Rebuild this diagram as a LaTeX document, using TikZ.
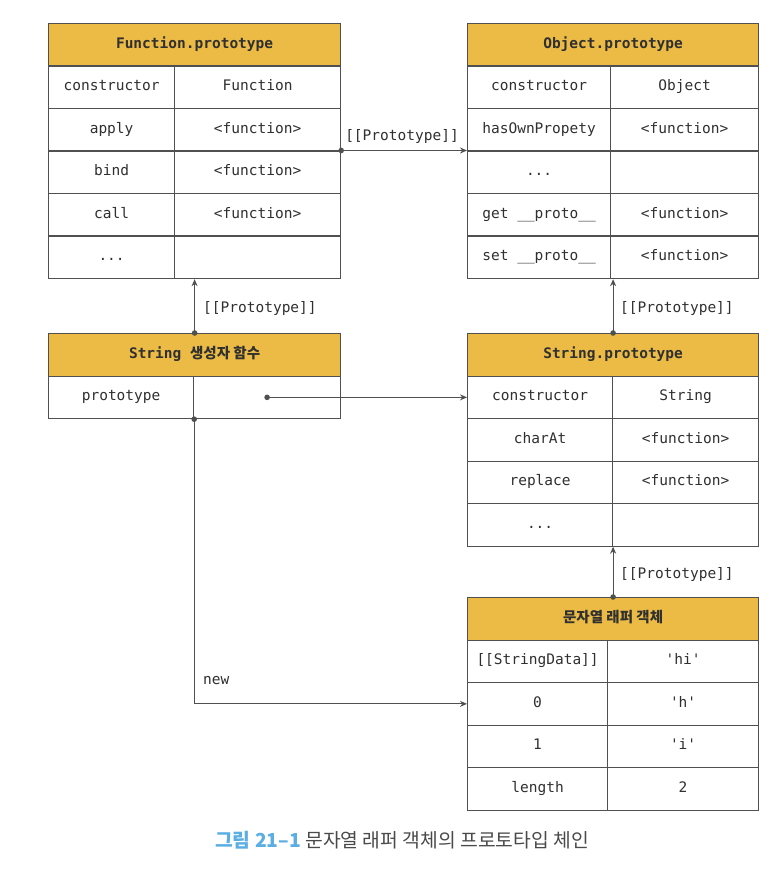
\documentclass[tikz,border=0pt]{standalone}
\usepackage{fontspec}
\setmonofont{DejaVu Sans Mono}
\newfontfamily\kr{Noto Sans CJK KR}
\usetikzlibrary{arrows.meta}
\definecolor{gold}{HTML}{EBBB45}
\definecolor{linec}{HTML}{505050}
\definecolor{txt}{HTML}{303030}
\definecolor{capblue}{HTML}{5BAEE3}
\definecolor{capgray}{HTML}{4A4A4A}
\newcommand\trow[7]{%
  \node[cell,minimum width={#4-#2}] (#1k) at (#2,#3) {#6};
  \node[cell,minimum width={#5-#4}] (#1v) at (#4,#3) {#7};}
\begin{document}
\begin{tikzpicture}[x=1pt,y=-1pt,
 cell/.style={draw=linec, line width=1.2pt, minimum height=42.5pt, inner sep=0pt,
   anchor=north west, text height=10pt, text depth=3pt,
   font=\ttfamily\fontsize{14.5}{16}\selectfont, text=txt},
 head/.style={cell, fill=gold, font=\ttfamily\bfseries\fontsize{14.5}{16}\selectfont},
 lbl/.style={inner sep=0pt, font=\ttfamily\fontsize{14.5}{16}\selectfont, text=txt},
 conn/.style={draw=linec, line width=1.2pt},
 arr/.style={conn, -{Stealth[length=7pt,width=6pt]}},
]
\useasboundingbox (0,0) rectangle (782,874);
\fill[white] (0,0) rectangle (782,874);

% Function.prototype
\node[head, minimum width=292] (fpH) at (48,23) {Function.prototype};
\trow{fp1}{48}{65.5}{174}{340}{constructor}{Function}
\trow{fp2}{48}{108}{174}{340}{apply}{<function>}
\trow{fp3}{48}{150.5}{174}{340}{bind}{<function>}
\trow{fp4}{48}{193}{174}{340}{call}{<function>}
\trow{fp5}{48}{235.5}{174}{340}{...}{}

% Object.prototype
\node[head, minimum width=291] (opH) at (467,23) {Object.prototype};
\trow{op1}{467}{65.5}{610}{758}{constructor}{Object}
\trow{op2}{467}{108}{610}{758}{hasOwnPropety}{<function>}
\trow{op3}{467}{150.5}{610}{758}{...}{}
\trow{op4}{467}{193}{610}{758}{get \_\_proto\_\_}{<function>}
\trow{op5}{467}{235.5}{610}{758}{set \_\_proto\_\_}{<function>}

% String constructor
\node[head, minimum width=292] (scH) at (48,333) {String {\kr 생성자 함수}};
\trow{sc1}{48}{375.5}{193}{340}{prototype}{}

% String.prototype
\node[head, minimum width=291] (spH) at (467,333) {String.prototype};
\trow{sp1}{467}{375.5}{612}{758}{constructor}{String}
\trow{sp2}{467}{418}{612}{758}{charAt}{<function>}
\trow{sp3}{467}{460.5}{612}{758}{replace}{<function>}
\trow{sp4}{467}{503}{612}{758}{...}{}

% wrapper object
\node[head, minimum width=291] (wH) at (467,597) {{\kr 문자열 래퍼 객체}};
\trow{w1}{467}{639.5}{607}{758}{[[StringData]]}{'hi'}
\trow{w2}{467}{682}{607}{758}{0}{'h'}
\trow{w3}{467}{724.5}{607}{758}{1}{'i'}
\trow{w4}{467}{767}{607}{758}{length}{2}

% connectors
\draw[arr] (fp3v.north east) -- (op3k.north west);
\fill[linec] (fp3v.north east) circle (2.8pt);
\node[lbl] (l1) at (402,137) {[[Prototype]]};

\draw[arr] (scH.north) -- (scH.north |- fp5v.south);
\fill[linec] (scH.north) circle (2.8pt);
\node[lbl, anchor=west] (l2) at (203,308) {[[Prototype]]};

\draw[arr] (spH.north) -- (spH.north |- op5v.south);
\fill[linec] (spH.north) circle (2.8pt);
\node[lbl, anchor=west] (l3) at (620,308) {[[Prototype]]};

\draw[arr] (wH.north) -- (wH.north |- sp4v.south);
\fill[linec] (wH.north) circle (2.8pt);
\node[lbl, anchor=west] (l4) at (620,574) {[[Prototype]]};

\draw[arr] (sc1v.center) -- (sc1v.center -| sp1k.west);
\fill[linec] (sc1v.center) circle (2.8pt);

\draw[arr] (sc1k.south east) |- (w2k.west);
\fill[linec] (sc1k.south east) circle (2.8pt);
\node[lbl, anchor=west] (newl) at (203,681) {new};

% caption
\node[font=\kr\fontsize{19.3}{22}\selectfont, text=capgray, inner sep=0pt] (cap) at (402,840)
  {{\color{capblue}\bfseries 그림 21–1} 문자열 래퍼 객체의 프로토타입 체인};
\end{tikzpicture}
\end{document}
